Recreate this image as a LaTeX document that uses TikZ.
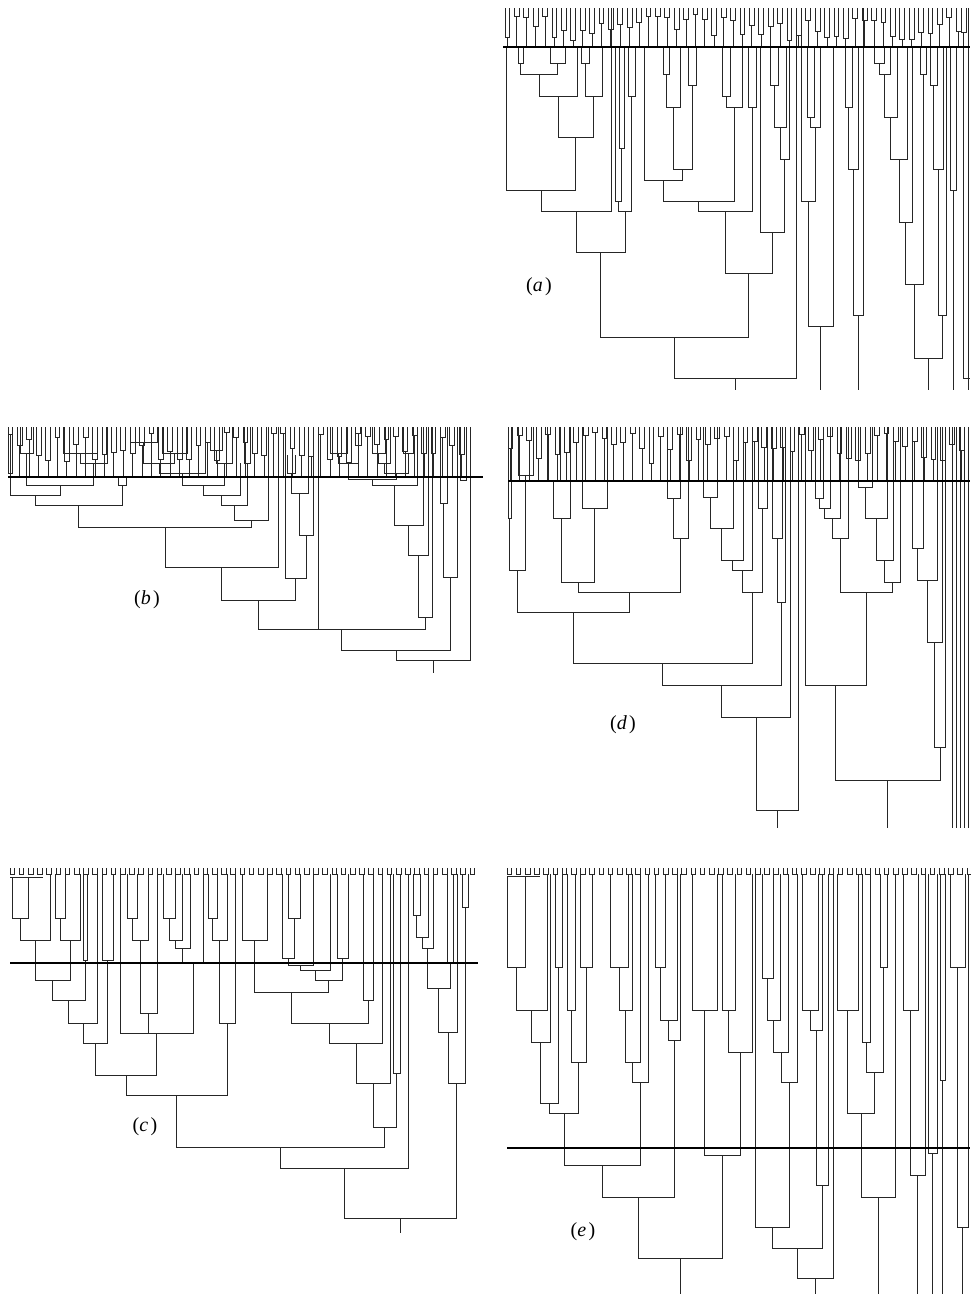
\documentclass[tikz,border=0pt]{standalone}
\usepackage{fontspec}
\setmainfont{Liberation Serif}
\tikzset{
  dend/.style={line width=0.7pt, black!85},
  cutline/.style={line width=1.3pt, black},
  plabel/.style={font=\fontsize{20}{24}\selectfont, inner sep=0pt}
}
\newcommand\dmerge[5]{\draw[dend] (#1,#2) |- (#3,#5) -- (#3,#4);}
\newcommand\dstem[3]{\draw[dend] (#1,#2) -- (#1,#3);}
\newcommand\dcomb[5]{%
  \foreach \i in {0,...,#2}{%
    \pgfmathsetmacro\xa{#1+9.4*\i}%
    \pgfmathsetmacro\xb{\xa+4.7}%
    \pgfmathsetmacro\xc{\xa+2.35}%
    \pgfmathsetmacro\hh{#3+5+rnd*#5}%
    \draw[dend] (\xa,#3) |- (\xb,\hh) -- (\xb,#3);
    \draw[dend] (\xc,\hh) -- (\xc,#4);
  }}
\newcommand\dfringe[3]{%
  \foreach \i in {0,...,#2}{%
    \pgfmathsetmacro\xa{#1+9.2*\i}%
    \pgfmathsetmacro\xb{\xa+4.6}%
    \draw[dend] (\xa,#3) |- (\xb,#3+6) -- (\xb,#3);
  }}
\begin{document}
\begin{tikzpicture}[x=1pt,y=-1pt]
\useasboundingbox (0,0) rectangle (970,1294);
\fill[white] (0,0) rectangle (970,1294);
\pgfmathsetseed{7}
% ================= panel (a) =================
\dcomb{505}{48}{8}{47}{28}
\dmerge{518}{47}{523}{47}{63}
\dmerge{550}{47}{565}{47}{63}
\dmerge{520.5}{63}{557.5}{63}{74}
\dmerge{539}{74}{577}{47}{96}
\dmerge{581}{47}{589}{47}{63}
\dmerge{585}{63}{602}{47}{96}
\dmerge{558}{96}{593.5}{96}{137}
\dmerge{506}{47}{575.75}{137}{190}
\dmerge{541}{190}{611}{8}{211}
\dmerge{619}{47}{624}{47}{148}
\dmerge{615}{47}{621.5}{148}{201}
\dmerge{628}{47}{635}{47}{96}
\dmerge{618.25}{201}{631.5}{96}{211}
\dmerge{576}{211}{625}{211}{252}
\dmerge{663}{47}{669}{47}{74}
\dmerge{666}{74}{680}{47}{107}
\dmerge{688}{47}{696}{47}{85}
\dmerge{673}{107}{692}{85}{169}
\dmerge{644}{47}{682.5}{169}{180}
\dmerge{722}{47}{730}{47}{96}
\dmerge{726}{96}{742}{47}{107}
\dmerge{663}{180}{734}{107}{201}
\dmerge{748}{47}{756}{47}{107}
\dmerge{698.5}{201}{752}{107}{211}
\dmerge{770}{47}{778}{47}{85}
\dmerge{774}{85}{786}{47}{127}
\dmerge{780}{127}{789}{47}{159}
\dmerge{760}{47}{784.5}{159}{232}
\dmerge{725}{211}{772}{232}{273}
\dmerge{600.5}{252}{748.5}{273}{337}
\dmerge{674.5}{337}{796}{8}{378}
\dstem{735}{378}{390}
\dmerge{807}{47}{814}{47}{117}
\dmerge{810.5}{117}{820}{47}{127}
\dmerge{801}{8}{815}{127}{201}
\dmerge{808}{201}{833}{47}{326}
\dstem{820.5}{326}{390}
\dmerge{845}{47}{852}{47}{107}
\dmerge{848.5}{107}{858}{47}{169}
\dmerge{853}{169}{863}{8}{315}
\dstem{858}{315}{390}
\dmerge{874}{47}{884}{47}{63}
\dmerge{879}{63}{890}{47}{74}
\dmerge{884.5}{74}{897}{47}{117}
\dmerge{890.75}{117}{907}{47}{159}
\dmerge{899}{159}{912}{47}{222}
\dmerge{920}{47}{926}{47}{74}
\dmerge{905.5}{222}{923}{74}{284}
\dmerge{930}{47}{937}{47}{85}
\dmerge{933.5}{85}{943}{47}{169}
\dmerge{938}{169}{946}{47}{315}
\dmerge{914}{284}{942}{315}{358}
\dstem{928}{358}{390}
\dmerge{950}{47}{956}{47}{190}
\dstem{953}{190}{390}
\dmerge{961}{8}{966}{8}{32}
\draw[dend] (963.5,32) -- (963.5,378) -- (970,378);
\dstem{968}{8}{390}
\draw[cutline] (503,47) -- (970,47);
\node[plabel] (la) at (539,287) {(\textit{a}\hspace{0.12em})};
% ================= panel (b) =================
\dcomb{8}{48}{427}{477}{30}
\dmerge{20}{427}{33}{427}{453}
\dmerge{63}{427}{97}{427}{453}
\dmerge{80}{453}{107}{427}{463}
\dmerge{26.5}{453}{93.5}{463}{485}
\dmerge{8}{427}{12}{427}{473}
\dmerge{10}{473}{60}{485}{495}
\dmerge{118}{477}{126}{477}{485}
\dmerge{35}{495}{122}{485}{505}
\dmerge{130}{427}{157}{427}{442}
\dmerge{162}{427}{187}{427}{453}
\dmerge{143.5}{442}{174.5}{453}{463}
\dmerge{210}{427}{222}{427}{450}
\dmerge{216}{450}{232}{427}{463}
\dmerge{159}{463}{205}{427}{473}
\dmerge{182}{473}{224}{463}{485}
\dmerge{203}{485}{240}{463}{495}
\dmerge{244}{427}{250}{427}{463}
\dmerge{221.5}{495}{247}{463}{505}
\dmerge{234}{505}{268}{427}{520}
\dmerge{78.5}{505}{251}{520}{527}
\dmerge{165}{527}{278}{427}{567}
\dmerge{287}{455}{295}{455}{473}
\dmerge{291}{473}{308}{427}{493}
\dmerge{299.5}{493}{313}{427}{535}
\dmerge{285}{427}{306}{535}{578}
\dmerge{221.5}{567}{295.5}{578}{600}
\dmerge{330}{427}{347}{427}{453}
\dmerge{355}{427}{361}{427}{445}
\dmerge{338.5}{453}{358}{445}{463}
\dmerge{372}{427}{385}{427}{453}
\dmerge{378.5}{453}{390}{427}{463}
\dmerge{403}{427}{413}{427}{453}
\dmerge{384}{463}{408}{453}{473}
\dmerge{348}{463}{396}{473}{479}
\dmerge{372}{479}{417}{427}{485}
\dmerge{394.5}{485}{423}{427}{525}
\dmerge{408.75}{525}{428}{427}{555}
\dmerge{418.4}{555}{432}{427}{617}
\dmerge{258.5}{600}{425}{617}{629}
\dstem{318}{427}{629}
\dmerge{440}{427}{447}{427}{503}
\dmerge{443.5}{503}{457}{427}{577}
\dmerge{341.75}{629}{450}{577}{650}
\dmerge{460}{427}{466}{427}{480}
\dmerge{396}{650}{470}{427}{660}
\dstem{433}{660}{673}
\draw[cutline] (8,477) -- (483,477);
\node[plabel] (lb) at (147,600) {(\textit{b}\hspace{0.12em})};
% ================= panel (d) =================
\dcomb{508}{48}{427}{481}{32}
\dmerge{518}{427}{533}{427}{475}
\dmerge{508}{427}{511}{427}{518}
\dmerge{509.5}{518}{525.5}{475}{570}
\dmerge{547}{427}{560}{427}{481}
\dmerge{553.5}{481}{570}{427}{518}
\dmerge{582}{427}{607}{427}{508}
\dmerge{561.75}{518}{594.5}{508}{582}
\dmerge{667}{427}{680}{427}{498}
\dmerge{673.5}{498}{688}{427}{538}
\dmerge{578}{582}{680.75}{538}{592}
\dmerge{517.5}{570}{629.4}{592}{612}
\dmerge{703}{427}{717}{427}{497}
\dmerge{710}{497}{733}{427}{528}
\dmerge{721.5}{528}{743}{427}{560}
\dmerge{732}{560}{752}{427}{570}
\dmerge{758}{427}{767}{427}{508}
\dmerge{742}{570}{762.5}{508}{592}
\dmerge{573.5}{612}{752}{592}{663}
\dmerge{772}{427}{782}{427}{538}
\dmerge{777}{538}{785}{427}{602}
\dmerge{662.5}{663}{781}{602}{685}
\dmerge{721.75}{685}{790}{427}{717}
\dmerge{756}{717}{798}{427}{810}
\dstem{777}{810}{828}
\dmerge{815}{427}{823}{427}{498}
\dmerge{819}{498}{830}{427}{508}
\dmerge{824.5}{508}{840}{427}{518}
\dmerge{832}{518}{848}{427}{538}
\dmerge{858}{427}{872}{427}{487}
\dmerge{865}{487}{887}{427}{518}
\dmerge{876}{518}{893}{427}{560}
\dmerge{884.5}{560}{900}{427}{582}
\dmerge{840}{538}{892}{582}{592}
\dmerge{805}{427}{866}{592}{685}
\dmerge{912}{427}{923}{427}{548}
\dmerge{917.5}{548}{937}{427}{580}
\dmerge{927}{580}{942}{427}{642}
\dmerge{934.5}{642}{945}{427}{747}
\dmerge{835.5}{685}{940}{747}{780}
\dstem{887.75}{780}{828}
\dstem{952}{427}{828}
\dstem{956}{427}{828}
\dstem{960}{427}{828}
\dstem{964}{427}{828}
\dstem{968}{427}{828}
\draw[cutline] (508,481) -- (970,481);
\node[plabel] (ld) at (623,725) {(\textit{d}\hspace{0.12em})};
% ================= panel (c) =================
\dfringe{10}{50}{868}
\draw[dend] (10,877) -- (43,877);
\dmerge{12}{877}{28}{877}{918}
\dmerge{55}{874}{65}{874}{918}
\dmerge{20}{918}{50}{874}{940}
\dmerge{60}{918}{80}{874}{940}
\dmerge{35}{940}{70}{940}{980}
\dmerge{83}{874}{87}{874}{960}
\dmerge{52.5}{980}{85}{960}{1000}
\dmerge{68.75}{1000}{97}{874}{1023}
\dmerge{102}{874}{113}{874}{960}
\dmerge{82.9}{1023}{107.5}{960}{1043}
\dmerge{127}{874}{137}{874}{918}
\dmerge{132}{918}{148}{874}{940}
\dmerge{140}{940}{157}{874}{1013}
\dmerge{163}{874}{175}{874}{918}
\dmerge{169}{918}{182}{874}{940}
\dmerge{175.5}{940}{190}{874}{948}
\dmerge{182.75}{948}{203}{874}{963}
\dmerge{120}{874}{193}{963}{1033}
\dstem{148.5}{1013}{1033}
\dmerge{95.2}{1043}{156.5}{1033}{1075}
\dmerge{208}{874}{217}{874}{918}
\dmerge{212.5}{918}{227}{874}{940}
\dmerge{219.75}{940}{235}{874}{1023}
\dmerge{125.9}{1075}{227.4}{1023}{1095}
\dmerge{288}{874}{300}{874}{918}
\dmerge{282}{874}{294}{918}{958}
\dmerge{288}{958}{313}{874}{965}
\dmerge{300.5}{965}{330}{874}{970}
\dmerge{337}{874}{348}{874}{958}
\dmerge{315}{970}{342.5}{958}{980}
\dmerge{242}{874}{267}{874}{940}
\dmerge{254.5}{940}{328.75}{980}{992}
\dmerge{363}{874}{373}{874}{1000}
\dmerge{291.6}{992}{368}{1000}{1023}
\dmerge{329.8}{1023}{382}{874}{1043}
\dmerge{355.9}{1043}{390}{874}{1083}
\dmerge{393}{874}{400}{874}{1073}
\dmerge{373}{1083}{396.5}{1073}{1127}
\dmerge{176.6}{1095}{384.7}{1127}{1147}
\dmerge{280.6}{1147}{408}{874}{1168}
\dmerge{413}{874}{420}{874}{915}
\dmerge{416.5}{915}{428}{874}{937}
\dmerge{422.25}{937}{433}{874}{948}
\dmerge{447}{874}{453}{874}{963}
\dmerge{427.6}{948}{450}{963}{988}
\dmerge{438.8}{988}{457}{874}{1032}
\dmerge{462}{874}{468}{874}{907}
\dmerge{447.9}{1032}{465}{907}{1083}
\dmerge{344.3}{1168}{456.5}{1083}{1218}
\dstem{400.4}{1218}{1233}
\draw[cutline] (10,963) -- (478,963);
\node[plabel] (lc) at (145,1127) {(\textit{c}\hspace{0.12em})};
% ================= panel (e) =================
\dfringe{507}{50}{868}
\draw[dend] (507,876) -- (540,876);
\dmerge{507}{876}{525}{876}{967}
\dmerge{516}{967}{547}{874}{1010}
\dmerge{531.5}{1010}{550}{874}{1042}
\dmerge{555}{874}{562}{874}{967}
\dmerge{540.75}{1042}{558.5}{967}{1103}
\dmerge{567}{874}{575}{874}{1010}
\dmerge{580}{874}{592}{874}{967}
\dmerge{571}{1010}{586}{967}{1062}
\dmerge{549.6}{1103}{578.5}{1062}{1113}
\dmerge{610}{874}{628}{874}{967}
\dmerge{619}{967}{632}{874}{1010}
\dmerge{625.5}{1010}{640}{874}{1062}
\dmerge{632.75}{1062}{648}{874}{1082}
\dmerge{564}{1113}{640.4}{1082}{1165}
\dmerge{655}{874}{665}{874}{967}
\dmerge{660}{967}{677}{874}{1020}
\dmerge{668.5}{1020}{680}{874}{1040}
\dmerge{602.2}{1165}{674.25}{1040}{1197}
\dmerge{692}{874}{717}{874}{1010}
\dmerge{722}{874}{735}{874}{1010}
\dmerge{728.5}{1010}{752}{874}{1052}
\dmerge{704.5}{1010}{740.25}{1052}{1155}
\dmerge{638.2}{1197}{722.4}{1155}{1258}
\dstem{680.3}{1258}{1294}
\dmerge{762}{874}{773}{874}{978}
\dmerge{767.5}{978}{780}{874}{1020}
\dmerge{773.75}{1020}{788}{874}{1052}
\dmerge{780.9}{1052}{797}{874}{1082}
\dmerge{755}{874}{789}{1082}{1227}
\dmerge{802}{874}{818}{874}{1010}
\dmerge{810}{1010}{822}{874}{1030}
\dmerge{816}{1030}{828}{874}{1185}
\dmerge{772}{1227}{822}{1185}{1248}
\dmerge{797}{1248}{833}{874}{1278}
\dstem{815}{1278}{1294}
\dmerge{837}{874}{858}{874}{1010}
\dmerge{862}{874}{870}{874}{1042}
\dmerge{880}{874}{887}{874}{967}
\dmerge{866}{1042}{883.5}{967}{1072}
\dmerge{847.5}{1010}{874.75}{1072}{1113}
\dmerge{861.1}{1113}{895}{874}{1197}
\dstem{878}{1197}{1294}
\dmerge{903}{874}{918}{874}{1010}
\dmerge{910.5}{1010}{925}{874}{1175}
\dstem{917.75}{1175}{1294}
\dmerge{928}{874}{937}{874}{1153}
\dstem{932.5}{1153}{1294}
\dmerge{940}{874}{945}{874}{1080}
\dstem{942.5}{1080}{1294}
\dmerge{950}{874}{965}{874}{967}
\dmerge{957.5}{967}{968}{874}{1227}
\dstem{962.75}{1227}{1294}
\draw[cutline] (507,1148) -- (970,1148);
\node[plabel] (le) at (583,1232) {(\textit{e}\hspace{0.12em})};
\end{tikzpicture}
\end{document}
